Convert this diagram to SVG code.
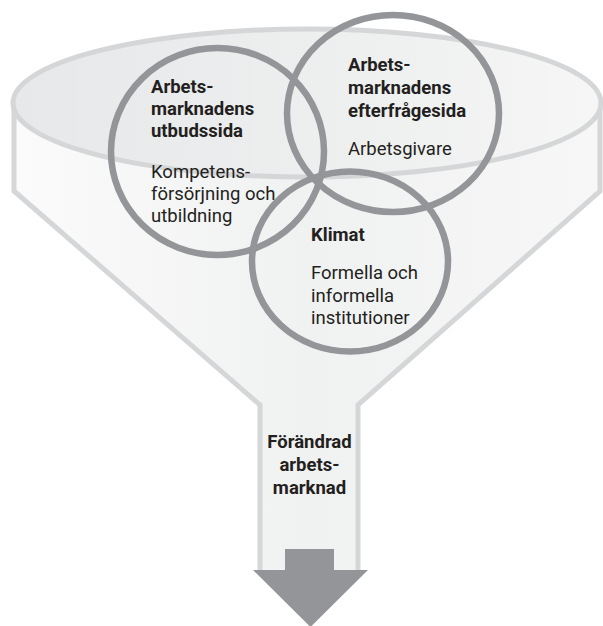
<svg xmlns="http://www.w3.org/2000/svg" width="603" height="626" viewBox="0 0 603 626">
<style>
.t{font-family:Roboto,"Liberation Sans",Arial,sans-serif;font-size:18.5px;fill:#231f20}
.b{font-weight:700}
.ring{fill:none;stroke:#939598;stroke-width:6.5}
.rim{stroke:#d5d6d7;stroke-width:5;stroke-linejoin:miter}
</style>
<defs>
<linearGradient id="body" x1="0" y1="0" x2="1" y2="0">
<stop offset="0" stop-color="#fbfbfb"/>
<stop offset="0.5" stop-color="#f0f1f1"/>
<stop offset="1" stop-color="#f7f7f7"/>
</linearGradient>
<linearGradient id="top" x1="0" y1="0" x2="1" y2="0">
<stop offset="0" stop-color="#e7e8e9"/>
<stop offset="0.6" stop-color="#eeefef"/>
<stop offset="1" stop-color="#f6f6f6"/>
</linearGradient>
</defs>
<g id="funnel">
<path d="M14,103 V191 L260,405 V572 H358 V405 L600,191 V103 Z" fill="url(#body)"/>
<path class="rim" fill="none" d="M14,103 V191 L260,405 V572 M358,572 V405 L600,191 V103"/>
<ellipse class="rim" cx="307" cy="103" rx="294" ry="74" fill="url(#top)"/>
</g>
<g id="supply">
<ellipse class="ring" cx="217.5" cy="151.5" rx="106.5" ry="103.5"/>
<text class="t b"><tspan x="151" y="93">Arbets-</tspan><tspan x="151" y="115">marknadens</tspan><tspan x="151" y="137">utbudssida</tspan></text>
<text class="t"><tspan x="151" y="178">Kompetens-</tspan><tspan x="151" y="200">försörjning och</tspan><tspan x="151" y="222">utbildning</tspan></text>
</g>
<g id="demand">
<ellipse class="ring" cx="393" cy="113.5" rx="106" ry="98.5"/>
<text class="t b"><tspan x="348" y="71">Arbets-</tspan><tspan x="348" y="94">marknadens</tspan><tspan x="348" y="117">efterfrågesida</tspan></text>
<text class="t" x="348" y="155">Arbetsgivare</text>
</g>
<g id="climate">
<ellipse class="ring" cx="350" cy="261.5" rx="98" ry="90"/>
<text class="t b" x="311" y="241">Klimat</text>
<text class="t"><tspan x="311" y="279">Formella och</tspan><tspan x="311" y="302">informella</tspan><tspan x="311" y="324">institutioner</tspan></text>
</g>
<g id="outcome">
<text class="t b" text-anchor="middle"><tspan x="309.5" y="448">Förändrad</tspan><tspan x="309.5" y="471">arbets-</tspan><tspan x="309.5" y="494">marknad</tspan></text>
</g>
<g id="connectors">
<path d="M285,549 H334 V570 H368 L310.5,627 L253,570 H285 Z" fill="#939598"/>
</g>
</svg>
